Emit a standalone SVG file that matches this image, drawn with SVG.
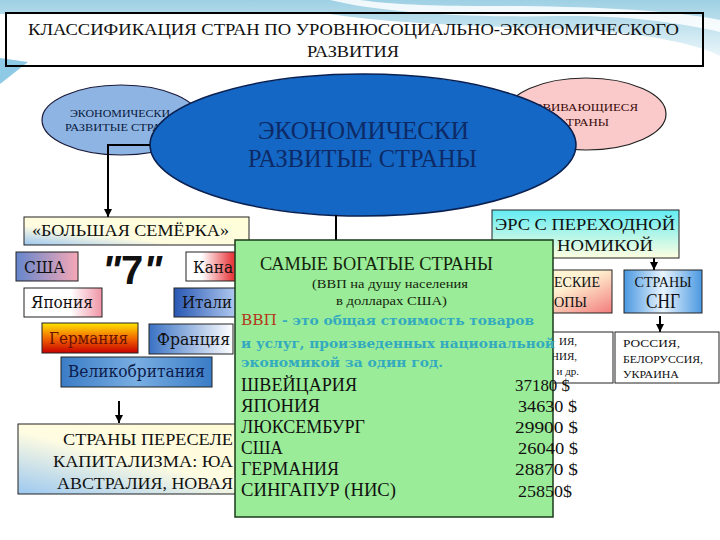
<svg xmlns="http://www.w3.org/2000/svg" width="720" height="540" viewBox="0 0 720 540">
<defs>
<style>
.t{font-family:"Liberation Serif","DejaVu Serif",serif;fill:#111}
.d{font-family:"DejaVu Serif","Liberation Serif",serif;fill:#111}
.bx{stroke:#222;stroke-width:1}
.ln{stroke:#000;stroke-width:2;fill:none}
.tl{font-family:"DejaVu Serif","Liberation Serif",serif;font-weight:bold;fill:#33AABF;font-size:13px}
</style>
<marker id="ar" viewBox="0 0 10 10" refX="10" refY="5" markerWidth="8" markerHeight="8" markerUnits="userSpaceOnUse" orient="auto"><path d="M0,0 L10,5 L0,10 z" fill="#000"/></marker>
<linearGradient id="bgG" x1="0" y1="0" x2="0" y2="1"><stop offset="0" stop-color="#9ED0E4"/><stop offset="1" stop-color="#EAF6FA"/></linearGradient>
<linearGradient id="g7" x1="0" y1="1" x2="1" y2="0"><stop offset="0" stop-color="#9CC6F0"/><stop offset="0.35" stop-color="#FFFCE0"/><stop offset="1" stop-color="#FFFFD8"/></linearGradient>
<linearGradient id="gUSA" x1="0" y1="0" x2="1" y2="0"><stop offset="0" stop-color="#6486CC"/><stop offset="1" stop-color="#F6A8B6"/></linearGradient>
<linearGradient id="gCan" x1="0" y1="0" x2="1" y2="0"><stop offset="0" stop-color="#FFFFFF"/><stop offset="0.15" stop-color="#FFFFFF"/><stop offset="0.45" stop-color="#E83A3E"/><stop offset="1" stop-color="#E83A3E"/></linearGradient>
<linearGradient id="gJap" x1="0" y1="0" x2="1" y2="0"><stop offset="0" stop-color="#FFFFFF"/><stop offset="0.6" stop-color="#FFFFFF"/><stop offset="1" stop-color="#F094A6"/></linearGradient>
<linearGradient id="gIta" x1="0" y1="0" x2="1" y2="0"><stop offset="0" stop-color="#2858B4"/><stop offset="0.5" stop-color="#A8C2EC"/><stop offset="1" stop-color="#FFFFFF"/></linearGradient>
<linearGradient id="gGer" x1="0" y1="0" x2="0" y2="1"><stop offset="0" stop-color="#FFE600"/><stop offset="0.5" stop-color="#F26A00"/><stop offset="1" stop-color="#C80000"/></linearGradient>
<linearGradient id="gFra" x1="0" y1="0" x2="1" y2="0"><stop offset="0" stop-color="#3A72C4"/><stop offset="1" stop-color="#FFFFFF"/></linearGradient>
<linearGradient id="gUK" x1="0" y1="0" x2="1" y2="0"><stop offset="0" stop-color="#3A7CC6"/><stop offset="0.5" stop-color="#78AEE2"/><stop offset="1" stop-color="#3A7CC6"/></linearGradient>
<linearGradient id="gSet" x1="0" y1="1" x2="1" y2="0"><stop offset="0" stop-color="#9CC8F0"/><stop offset="0.45" stop-color="#FFFCE2"/><stop offset="1" stop-color="#FFFAD0"/></linearGradient>
<linearGradient id="gErs" x1="0" y1="0" x2="0" y2="1"><stop offset="0" stop-color="#62ECF2"/><stop offset="1" stop-color="#FFFFE0"/></linearGradient>
<linearGradient id="gEur" x1="0" y1="0" x2="1" y2="1"><stop offset="0" stop-color="#FFFBD8"/><stop offset="0.45" stop-color="#FFF0D0"/><stop offset="1" stop-color="#F27C7C"/></linearGradient>
<linearGradient id="gSng" x1="0" y1="0" x2="1" y2="0"><stop offset="0" stop-color="#4A98E0"/><stop offset="0.5" stop-color="#E8F4FF"/><stop offset="1" stop-color="#4A98E0"/></linearGradient>
</defs>

<g id="background">
<rect x="0" y="0" width="720" height="540" fill="#FFFFFF"/>
<path d="M0,0 H720 V56 C690,40 620,30 540,28 C460,26 380,22 330,14 L0,14 Z" fill="url(#bgG)"/>
<path d="M330,0 C380,12 460,18 560,16 C620,15 680,22 720,32 V20 C660,8 560,6 480,6 C420,6 380,3 360,0 Z" fill="#FFFFFF" opacity="0.85"/>
<path d="M0,58 L28,62 L0,84 Z" fill="#8ECAE6"/>
</g>

<g id="title">
<rect x="6" y="13" width="697" height="53" fill="none" stroke="#000" stroke-width="2"/>
<text class="t" x="28" y="35" font-size="17" textLength="651" lengthAdjust="spacingAndGlyphs">КЛАССИФИКАЦИЯ СТРАН ПО УРОВНЮСОЦИАЛЬНО-ЭКОНОМИЧЕСКОГО</text>
<text class="t" x="307" y="57" font-size="17" textLength="92" lengthAdjust="spacingAndGlyphs">РАЗВИТИЯ</text>
</g>

<g id="node-left-ellipse">
<ellipse cx="121" cy="120" rx="79" ry="35" fill="#8EB4E3" stroke="#1A1A3A" stroke-width="1.2"/>
<text class="t" x="70" y="117" font-size="11" style="fill:#0A1A40" textLength="100" lengthAdjust="spacingAndGlyphs">ЭКОНОМИЧЕСКИ</text>
<text class="t" x="65" y="131" font-size="11" style="fill:#0A1A40" textLength="96" lengthAdjust="spacingAndGlyphs">РАЗВИТЫЕ СТРА</text>
</g>

<g id="node-right-ellipse">
<ellipse cx="586" cy="114" rx="80" ry="36" fill="#FACACA" stroke="#222" stroke-width="1.2"/>
<text class="t" x="536" y="111" font-size="11" style="fill:#3A0A0A" textLength="102" lengthAdjust="spacingAndGlyphs">ЗВИВАЮЩИЕСЯ</text>
<text class="t" x="566" y="126" font-size="11" style="fill:#3A0A0A" textLength="43" lengthAdjust="spacingAndGlyphs">ТРАНЫ</text>
</g>

<g id="node-center-ellipse">
<ellipse cx="363" cy="145" rx="213" ry="71" fill="#1467C4" stroke="#0A2050" stroke-width="1.5"/>
<text class="t" x="258" y="139" font-size="26" style="fill:#0D2A66" textLength="211" lengthAdjust="spacingAndGlyphs">ЭКОНОМИЧЕСКИ</text>
<text class="t" x="248" y="167" font-size="26" style="fill:#0D2A66" textLength="229" lengthAdjust="spacingAndGlyphs">РАЗВИТЫЕ СТРАНЫ</text>
</g>

<g id="connectors">
<path class="ln" d="M150,145 H108 V217" marker-end="url(#ar)"/>
<path class="ln" d="M336,215 V240"/>
<path class="ln" d="M119,401 V423" marker-end="url(#ar)"/>
<path class="ln" d="M654,258 V270" marker-end="url(#ar)"/>
<path class="ln" d="M660,316 V332" marker-end="url(#ar)"/>
</g>

<g id="node-big7">
<rect class="bx" x="24" y="217" width="225" height="28" fill="url(#g7)"/>
<text class="t" x="32" y="236" font-size="17" textLength="197" lengthAdjust="spacingAndGlyphs">«БОЛЬШАЯ СЕМЁРКА»</text>
</g>

<g id="node-usa">
<rect class="bx" x="16" y="252" width="62" height="29" fill="url(#gUSA)"/>
<text class="d" x="24" y="273" font-size="16" textLength="41" lengthAdjust="spacingAndGlyphs">США</text>
</g>

<g id="label-7">
<text x="132" y="284" font-family="'Liberation Sans','DejaVu Sans',sans-serif" font-weight="bold" font-size="40" text-anchor="middle" fill="#111"><tspan font-style="italic">"</tspan>7<tspan font-style="italic">"</tspan></text>
</g>

<g id="node-canada">
<rect class="bx" x="186" y="252" width="104" height="29" fill="url(#gCan)"/>
<text class="d" x="193" y="273" font-size="16" textLength="40" lengthAdjust="spacingAndGlyphs">Кана</text>
</g>

<g id="node-japan">
<rect class="bx" x="24" y="288" width="78" height="29" fill="url(#gJap)"/>
<text class="d" x="31" y="308" font-size="16" textLength="62" lengthAdjust="spacingAndGlyphs">Япония</text>
</g>

<g id="node-italy">
<rect class="bx" x="174" y="288" width="116" height="29" fill="url(#gIta)"/>
<text class="d" x="182" y="308" font-size="16" textLength="50" lengthAdjust="spacingAndGlyphs">Итали</text>
</g>

<g id="node-germany">
<rect class="bx" x="42" y="323" width="96" height="30" fill="url(#gGer)"/>
<text class="d" x="49" y="344" font-size="16" style="fill:#6A1200" textLength="79" lengthAdjust="spacingAndGlyphs">Германия</text>
</g>

<g id="node-france">
<rect class="bx" x="149" y="324" width="84" height="30" fill="url(#gFra)"/>
<text class="d" x="157" y="345" font-size="16" textLength="73" lengthAdjust="spacingAndGlyphs">Франция</text>
</g>

<g id="node-uk">
<rect class="bx" x="61" y="357" width="151" height="30" fill="url(#gUK)"/>
<text class="d" x="68" y="377" font-size="16" style="fill:#0C1C4C" textLength="137" lengthAdjust="spacingAndGlyphs">Великобритания</text>
</g>

<g id="node-settler">
<rect class="bx" x="18" y="424" width="290" height="70" fill="url(#gSet)"/>
<text class="t" x="63" y="445" font-size="17" textLength="170" lengthAdjust="spacingAndGlyphs">СТРАНЫ ПЕРЕСЕЛЕ</text>
<text class="t" x="53" y="467" font-size="17" textLength="180" lengthAdjust="spacingAndGlyphs">КАПИТАЛИЗМА: ЮА</text>
<text class="t" x="57" y="489" font-size="17" textLength="176" lengthAdjust="spacingAndGlyphs">АВСТРАЛИЯ, НОВАЯ</text>
</g>

<g id="node-ers">
<rect class="bx" x="492" y="210" width="187" height="48" fill="url(#gErs)"/>
<text class="t" x="495" y="230" font-size="17" textLength="180" lengthAdjust="spacingAndGlyphs">ЭРС С ПЕРЕХОДНОЙ</text>
<text class="t" x="557" y="251" font-size="17" textLength="96" lengthAdjust="spacingAndGlyphs">НОМИКОЙ</text>
</g>

<g id="node-europe">
<rect class="bx" x="520" y="270" width="92" height="43" fill="url(#gEur)"/>
<text class="t" x="554" y="287" font-size="14" textLength="46" lengthAdjust="spacingAndGlyphs">ЕСКИЕ</text>
<text class="t" x="554" y="307" font-size="14" textLength="33" lengthAdjust="spacingAndGlyphs">ОПЫ</text>
</g>

<g id="node-sng">
<rect class="bx" x="624" y="270" width="78" height="43" fill="url(#gSng)"/>
<text class="t" x="663" y="287" font-size="14" text-anchor="middle" textLength="57" lengthAdjust="spacingAndGlyphs">СТРАНЫ</text>
<text class="t" x="663" y="308" font-size="20" text-anchor="middle" textLength="34" lengthAdjust="spacingAndGlyphs">СНГ</text>
</g>

<g id="node-europe-list">
<rect class="bx" x="520" y="332" width="93" height="51" fill="#FFFFFF"/>
<text class="t" x="577" y="345" font-size="11" text-anchor="end">ИЯ,</text>
<text class="t" x="577" y="360" font-size="11" text-anchor="end">НИЯ,</text>
<text class="t" x="579" y="375" font-size="11" text-anchor="end">и др.</text>
</g>

<g id="node-sng-list">
<rect class="bx" x="615" y="332" width="104" height="51" fill="#FFFFFF"/>
<text class="t" x="623" y="347" font-size="11" textLength="57" lengthAdjust="spacingAndGlyphs">РОССИЯ,</text>
<text class="t" x="623" y="363" font-size="11" textLength="80" lengthAdjust="spacingAndGlyphs">БЕЛОРУССИЯ,</text>
<text class="t" x="623" y="378" font-size="11" textLength="56" lengthAdjust="spacingAndGlyphs">УКРАИНА</text>
</g>

<g id="node-richest">
<rect x="235" y="240" width="318" height="277" fill="#9AEC98" stroke="#1A3A1A" stroke-width="1.5"/>
<text class="t" x="260" y="270" font-size="18" style="fill:#14240C" textLength="233" lengthAdjust="spacingAndGlyphs">САМЫЕ БОГАТЫЕ СТРАНЫ</text>
<text class="t" x="312" y="288" font-size="12" style="fill:#14240C" textLength="156" lengthAdjust="spacingAndGlyphs">(ВВП на душу населения</text>
<text class="t" x="336" y="305" font-size="12" style="fill:#14240C" textLength="111" lengthAdjust="spacingAndGlyphs">в долларах США)</text>
<text class="d" x="241" y="325" font-size="15" style="fill:#B5371A" textLength="36" lengthAdjust="spacingAndGlyphs">ВВП</text>
<text class="tl" x="282" y="325" textLength="252" lengthAdjust="spacingAndGlyphs">- это общая стоимость товаров</text>
<text class="tl" x="241" y="348" textLength="314" lengthAdjust="spacingAndGlyphs">и услуг, произведенных национальной</text>
<text class="tl" x="241" y="367" textLength="202" lengthAdjust="spacingAndGlyphs">экономикой за один год.</text>
<text class="t" x="241" y="391" font-size="18" textLength="116" lengthAdjust="spacingAndGlyphs">ШВЕЙЦАРИЯ</text>
<text class="t" x="241" y="412" font-size="18" textLength="79" lengthAdjust="spacingAndGlyphs">ЯПОНИЯ</text>
<text class="t" x="241" y="433" font-size="18" textLength="124" lengthAdjust="spacingAndGlyphs">ЛЮКСЕМБУРГ</text>
<text class="t" x="241" y="454" font-size="18" textLength="42" lengthAdjust="spacingAndGlyphs">США</text>
<text class="t" x="241" y="475" font-size="18" textLength="98" lengthAdjust="spacingAndGlyphs">ГЕРМАНИЯ</text>
<text class="t" x="241" y="496" font-size="18" textLength="155" lengthAdjust="spacingAndGlyphs">СИНГАПУР (НИС)</text>
<text class="t" x="515" y="391" font-size="16" textLength="55" lengthAdjust="spacingAndGlyphs">37180 $</text>
<text class="t" x="518" y="412" font-size="16" textLength="59" lengthAdjust="spacingAndGlyphs">34630 $</text>
<text class="t" x="515" y="433" font-size="16" textLength="63" lengthAdjust="spacingAndGlyphs">29900 $</text>
<text class="t" x="518" y="454" font-size="16" textLength="60" lengthAdjust="spacingAndGlyphs">26040 $</text>
<text class="t" x="515" y="475" font-size="16" textLength="63" lengthAdjust="spacingAndGlyphs">28870 $</text>
<text class="t" x="518" y="497" font-size="16" textLength="54" lengthAdjust="spacingAndGlyphs">25850$</text>
</g>
</svg>
